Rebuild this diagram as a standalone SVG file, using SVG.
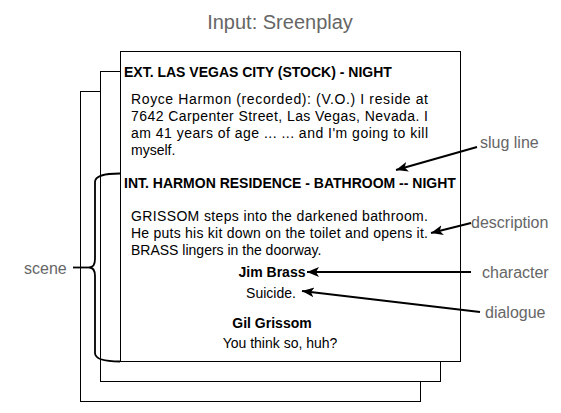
<svg xmlns="http://www.w3.org/2000/svg" width="561" height="413" viewBox="0 0 561 413">
<defs>
<style>
.page{fill:#fff;stroke:#000;stroke-width:1}
.t{font-family:"Liberation Sans",Arial,sans-serif;font-size:14px;fill:#000}
.b{font-weight:bold}
.lbl{font-family:"Liberation Sans",Arial,sans-serif;font-size:16px;fill:#666}
.arr{fill:none;stroke:#000;stroke-width:2;marker-end:url(#ah)}
</style>
<marker id="ah" markerUnits="userSpaceOnUse" markerWidth="14" markerHeight="12" refX="12" refY="5" orient="auto" viewBox="0 0 14 10">
<path d="M0,0 L12,5 L0,10 L3,5 Z" fill="#000"/>
</marker>
</defs>
<rect width="561" height="413" fill="#fff"/>
<text x="280" y="29" text-anchor="middle" font-family="Liberation Sans,Arial,sans-serif" font-size="20" fill="#666">Input: Sreenplay</text>
<g id="page3"><rect class="page" x="80.5" y="91.5" width="340" height="310"/></g>
<g id="page2"><rect class="page" x="100.5" y="71.5" width="340" height="310"/></g>
<g id="page1">
<rect class="page" x="120.5" y="51.5" width="340" height="310"/>
<text class="t b" x="124" y="77">EXT. LAS VEGAS CITY (STOCK) - NIGHT</text>
<text class="t" x="131" y="104" textLength="297" lengthAdjust="spacing">Royce Harmon (recorded): (V.O.) I reside at</text>
<text class="t" x="131" y="121" textLength="297" lengthAdjust="spacing">7642 Carpenter Street, Las Vegas, Nevada. I</text>
<text class="t" x="131" y="138" textLength="297" lengthAdjust="spacing">am 41 years of age ... ... and I'm going to kill</text>
<text class="t" x="131" y="155">myself.</text>
<text class="t b" x="124" y="188">INT. HARMON RESIDENCE - BATHROOM -- NIGHT</text>
<text class="t" x="131" y="221" textLength="297" lengthAdjust="spacing">GRISSOM steps into the darkened bathroom.</text>
<text class="t" x="131" y="238" textLength="297" lengthAdjust="spacing">He puts his kit down on the toilet and opens it.</text>
<text class="t" x="131" y="255">BRASS lingers in the doorway.</text>
<text class="t b" x="272" y="277" text-anchor="middle">Jim Brass</text>
<text class="t" x="271" y="298" text-anchor="middle">Suicide.</text>
<text class="t b" x="272" y="328" text-anchor="middle">Gil Grissom</text>
<text class="t" x="280" y="348" text-anchor="middle">You think so, huh?</text>
</g>
<g id="scene">
<path d="M120,173.5 Q95,173.5 95,182 L95,259 Q95,267.5 89,267.5 Q95,267.5 95,276 L95,353 Q95,361.5 120,361.5" fill="none" stroke="#000" stroke-width="1.8"/>
<text class="lbl" x="24" y="274">scene</text>
</g>
<g id="label-slug"><text class="lbl" x="480" y="148">slug line</text></g>
<g id="label-description"><text class="lbl" x="471" y="228">description</text></g>
<g id="label-character"><text class="lbl" x="482" y="278">character</text></g>
<g id="label-dialogue"><text class="lbl" x="485" y="318">dialogue</text></g>
<g id="connectors">
<line x1="73" y1="267.5" x2="89" y2="267.5" stroke="#000" stroke-width="1.8"/>
<path class="arr" d="M477,147 L396,170"/>
<path class="arr" d="M471,223 L431,233"/>
<path class="arr" d="M471,272 L307,272"/>
<path class="arr" d="M480,312 L302,291"/>
</g>
</svg>
